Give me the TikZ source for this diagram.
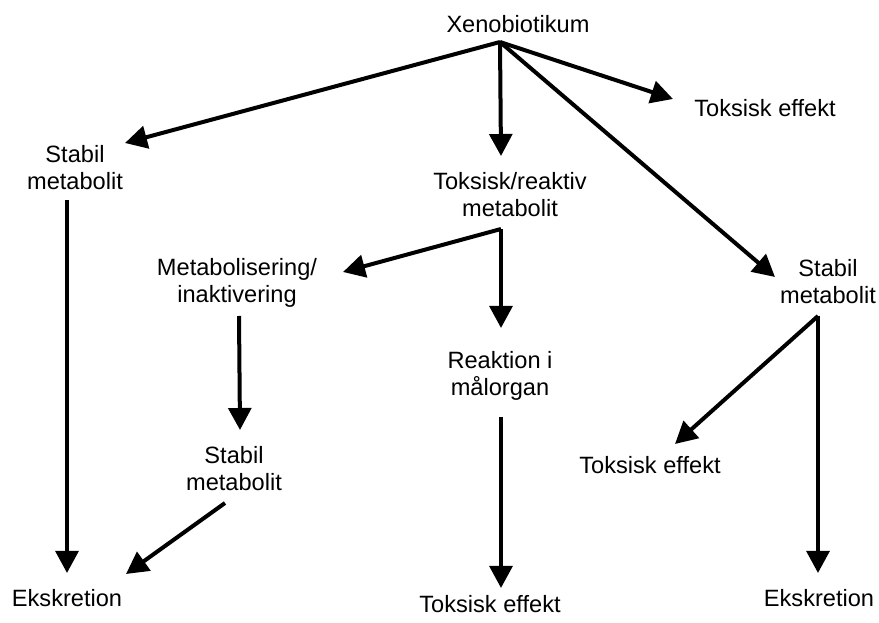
\documentclass[tikz,border=0pt]{standalone}
\usepackage{fontspec}
\setmainfont{Liberation Sans}
\usetikzlibrary{arrows.meta}
\tikzset{
  lbl/.style={inner sep=0pt, align=center, font=\fontsize{17.7}{20.3}\selectfont},
  arr/.style={line width=3pt, -{Triangle[length=16.5pt,width=17pt]}}
}

\begin{document}
\begin{tikzpicture}[x=0.75pt,y=-0.75pt]
  \useasboundingbox (0,0) rectangle (879,623);
  % stages
  \node[lbl] (xeno)  at (518,24)  {Xenobiotikum};
  \node[lbl] (toxA)  at (765,108) {Toksisk effekt};
  \node[lbl] (stabA) at (75,168)  {Stabil\\metabolit};
  \node[lbl] (reak)  at (510,195) {Toksisk/reaktiv\\metabolit};
  \node[lbl] (metab) at (237,283) {Metabolisering/\\inaktivering};
  \node[lbl] (stabB) at (828,282) {Stabil\\metabolit};
  \node[lbl] (reakt) at (500,376) {Reaktion i\\målorgan};
  \node[lbl] (stabC) at (234,469) {Stabil\\metabolit};
  \node[lbl] (toxB)  at (650,465) {Toksisk effekt};
  \node[lbl] (eksA)  at (67,598)  {Ekskretion};
  \node[lbl] (toxC)  at (490,604) {Toksisk effekt};
  \node[lbl] (eksB)  at (819,598) {Ekskretion};
  % from the xenobiotic
  \draw[arr] ([shift={(-18,18)}]xeno.center) -- ([shift={(50,-25)}]stabA.center);
  \draw[arr] ([shift={(-18,18)}]xeno.center) -- ([shift={(-9,-39)}]reak.center);
  \draw[arr] ([shift={(-18,18)}]xeno.center) -- ([shift={(-92,-9)}]toxA.center);
  \draw[arr] ([shift={(-18,18)}]xeno.center) -- ([shift={(-53,-5)}]stabB.center);
  % left branch
  \draw[arr] ([shift={(-8,32)}]stabA.center) -- ([shift={(0,-25)}]eksA.center);
  % middle branch
  \draw[arr] ([shift={(-9,34)}]reak.center) -- ([shift={(106,-11)}]metab.center);
  \draw[arr] ([shift={(-9,34)}]reak.center) -- ([shift={(1,-48)}]reakt.center);
  \draw[arr] ([shift={(2,33)}]metab.center) -- ([shift={(6,-39)}]stabC.center);
  \draw[arr] ([shift={(-9,34)}]stabC.center) -- ([shift={(59,-24)}]eksA.center);
  \draw[arr] ([shift={(1,41)}]reakt.center) -- ([shift={(11,-16)}]toxC.center);
  % right branch
  \draw[arr] ([shift={(-10,34)}]stabB.center) -- ([shift={(25,-21)}]toxB.center);
  \draw[arr] ([shift={(-10,34)}]stabB.center) -- ([shift={(-1,-25)}]eksB.center);
\end{tikzpicture}
\end{document}
